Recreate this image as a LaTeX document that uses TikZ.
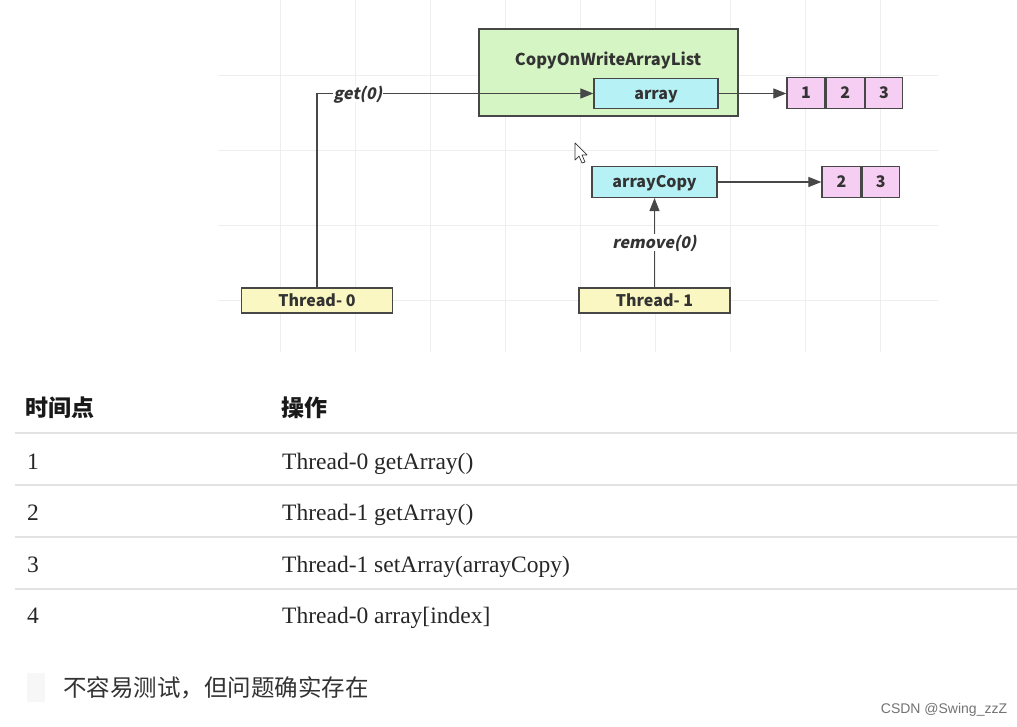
\documentclass[tikz,border=0pt]{standalone}
\usepackage{fontspec}
\setmainfont{Liberation Serif}
\newfontfamily\dg{Noto Sans CJK SC}
\newfontfamily\dgi[FakeSlant=0.2]{Noto Sans CJK SC}
\newfontfamily\cjk{Noto Sans CJK SC}
\newfontfamily\wm{Liberation Sans}
\usetikzlibrary{arrows.meta}
\definecolor{gfill}{HTML}{D6F5C4}
\definecolor{cfill}{HTML}{B6F1F6}
\definecolor{pfill}{HTML}{F6CEF3}
\definecolor{yfill}{HTML}{FBF7C2}
\definecolor{edge}{HTML}{474747}
\definecolor{txt}{HTML}{333333}
\definecolor{gridc}{HTML}{EEEEEE}
\definecolor{rule}{HTML}{E2E2E2}
\tikzset{
  box/.style={draw=edge, line width=1.2pt, inner sep=0pt, text=txt,
    text height=13pt, text depth=1.5pt,
    font=\dg\bfseries\fontsize{16}{19}\selectfont},
  cell/.style={box, fill=pfill, minimum height=31pt},
  conn/.style={draw=edge, line width=1.1pt, -{Triangle[length=13pt,width=10pt]}},
  lbl/.style={fill=white, inner sep=1pt, text=txt,
    text height=13pt, text depth=1.5pt,
    font=\dgi\bfseries\fontsize{16}{19}\selectfont},
  tbl/.style={anchor=base west, inner sep=0pt, text=black!85,
    font=\fontsize{23.5}{28}\selectfont},
  hdr/.style={anchor=base west, inner sep=0pt, text=black!90,
    font=\cjk\bfseries\fontsize{23}{28}\selectfont},
}
\begin{document}
\begin{tikzpicture}[x=1pt,y=-1pt]
\useasboundingbox (0,0) rectangle (1017,727);
\fill[white] (0,0) rectangle (1017,727);
% faint grid
\foreach \gx in {280,355,...,880} \draw[gridc, line width=0.8pt] (\gx,0) -- (\gx,352);
\foreach \gy in {75,150,225,300} \draw[gridc, line width=0.8pt] (218,\gy) -- (938,\gy);
% main container
\node[box, fill=gfill, minimum width=259pt, minimum height=87pt] (cow) at (608.5,72.5) {};
\node[anchor=base, inner sep=0pt, text=txt, font=\dg\bfseries\fontsize{16.4}{20}\selectfont] (cowt) at (608,65.5) {CopyOnWriteArrayList};
\node[box, fill=cfill, minimum width=124pt, minimum height=30pt] (arr) at (656,93.5) {array};
% array 1 2 3
\node[cell, minimum width=38pt] (p1) at (806,93) {1};
\node[cell, minimum width=38pt, anchor=west] (p2) at (p1.east) {2};
\node[cell, minimum width=37pt, anchor=west] (p3) at (p2.east) {3};
% arrayCopy
\node[box, fill=cfill, minimum width=125pt, minimum height=31pt] (ac) at (654.5,182) {arrayCopy};
\node[cell, minimum width=39pt] (q2) at (841.5,182) {2};
\node[cell, minimum width=37pt, anchor=west] (q3) at (q2.east) {3};
% threads
\node[box, fill=yfill, minimum width=151pt, minimum height=25pt] (t0) at (317,300.5) {Thread- 0};
\node[box, fill=yfill, minimum width=151pt, minimum height=25pt] (t1) at (654.5,300.5) {Thread- 1};
% connectors
\draw[conn] (arr.east) -- (arr.east -| p1.west);
\draw[conn] (ac.east) -- (q2.west);
\draw[conn] (t0.north) |- node[lbl, pos=0.574] (getl) {get(0)} (arr.west);
\draw[conn] (t1.north) -- node[lbl, pos=0.5] (reml) {remove(0)} (ac.south);
% mouse cursor
\draw[black!80, fill=white, line width=0.7pt, line join=round]
  (575,143) -- (575,160) -- (579,156) -- (582,163) -- (585,162) -- (582,155) -- (587,155) -- cycle;
% table
\node[hdr] (h1) at (25,416.5) {时间点};
\node[hdr] (h2) at (281,416.5) {操作};
\draw[rule, line width=2.5pt] (15,433) -- (1017,433);
\foreach \ry in {485,537,589} \draw[rule, line width=2pt] (15,\ry) -- (1017,\ry);
\node[tbl] (n1) at (27,469) {1};
\node[tbl] (o1) at (282,469) {Thread-0 getArray()};
\node[tbl] (n2) at (27,520.5) {2};
\node[tbl] (o2) at (282,520.5) {Thread-1 getArray()};
\node[tbl] (n3) at (27,572) {3};
\node[tbl] (o3) at (282,572) {Thread-1 setArray(arrayCopy)};
\node[tbl] (n4) at (27,623.5) {4};
\node[tbl] (o4) at (282,623.5) {Thread-0 array[index]};
% note
\fill[black!3] (27,673) rectangle (45,702);
\node[anchor=base west, inner sep=0pt, text=txt, font=\cjk\fontsize{23.5}{28}\selectfont] (note) at (63,696) {不容易测试，但问题确实存在};
% watermark
\node[inner sep=0pt, text=black!55, font=\wm\fontsize{14}{16}\selectfont] (wmk) at (944,710) {CSDN @Swing\_zzZ};
\end{tikzpicture}
\end{document}
